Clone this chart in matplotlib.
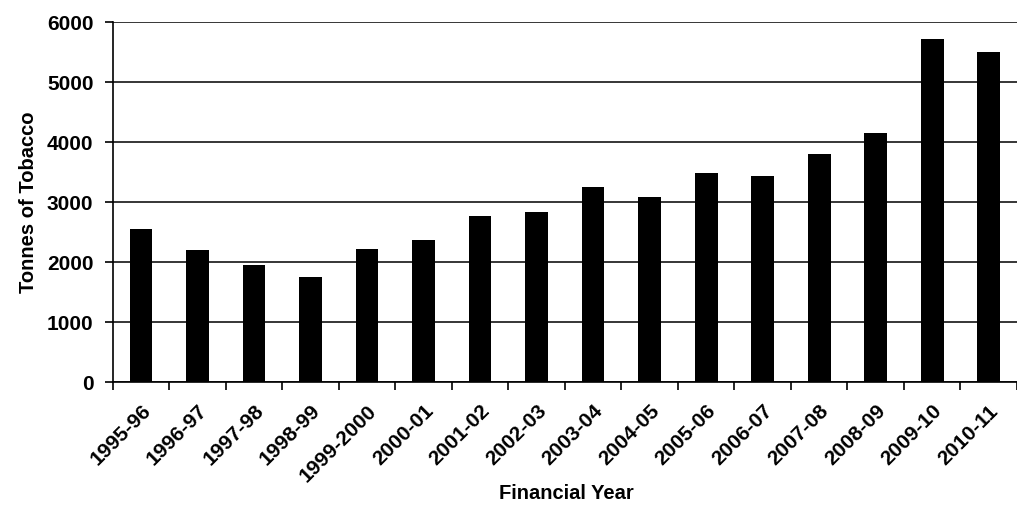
import numpy as np
import matplotlib
matplotlib.use("Agg")
import matplotlib.pyplot as plt

# --------------------

years = ["1995-96", "1996-97", "1997-98", "1998-99", "1999-2000", "2000-01",
         "2001-02", "2002-03", "2003-04", "2004-05", "2005-06", "2006-07",
         "2007-08", "2008-09", "2009-10", "2010-11"]
tonnes = [2550, 2200, 1950, 1750, 2220, 2370, 2770, 2830, 3250, 3080,
          3480, 3440, 3800, 4150, 5720, 5500]

plt.rcParams["font.family"] = ["Liberation Sans", "DejaVu Sans"]
plt.rcParams["font.weight"] = "bold"

# --------------------

fig = plt.figure(figsize = (10.17, 5.17), dpi = 100)
ax = fig.add_axes([0.111, 0.261, 0.889, 0.696])

x = np.arange(len(years))
ax.bar(x, tonnes, width = 0.4, color = "black", zorder = 3)

ax.set_xlim(-0.5, len(years) - 0.5)
ax.set_ylim(0, 6000)
ax.set_yticks(range(0, 6001, 1000))
ax.yaxis.grid(True, color = "black", linewidth = 1.1, zorder = 0)

ax.set_xticks(x)
ax.set_xticklabels(years, rotation = 45, ha = "right", rotation_mode = "anchor", fontsize = 15)
ax.set_xticks(np.arange(len(years) + 1) - 0.5, minor = True)
ax.tick_params(axis = "x", which = "major", length = 0, pad = 14)
ax.tick_params(axis = "x", which = "minor", length = 6, width = 1.2, color = "black")
ax.tick_params(axis = "y", length = 6, width = 1.2, labelsize = 15, pad = 8)

for side in ["top", "right"]:
    ax.spines[side].set_visible(False)
ax.spines["left"].set_linewidth(1.2)
ax.spines["bottom"].set_linewidth(1.2)

ax.set_ylabel("Tonnes of Tobacco", fontsize = 14.5, fontweight = "bold")
ax.yaxis.set_label_coords(-0.083, 0.5)
fig.text(0.557, 0.046, "Financial Year", ha = "center", va = "center", fontsize = 14.5)

plt.savefig("out.png", dpi = 100)
